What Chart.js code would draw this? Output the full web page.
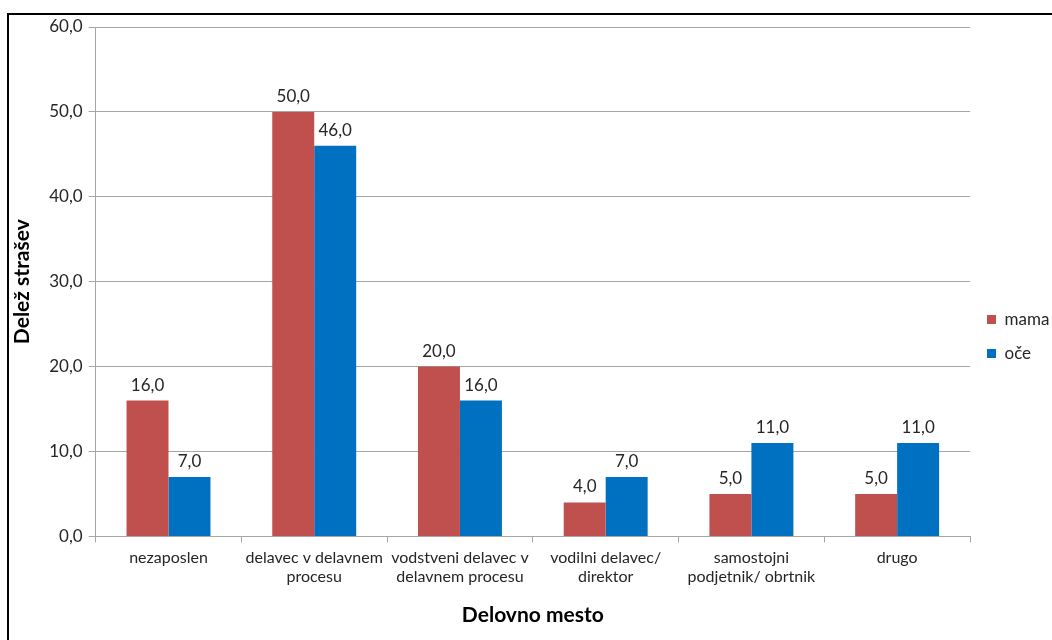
<!DOCTYPE html>
<html>
<head>
<meta charset="utf-8">
<script src="https://cdn.jsdelivr.net/npm/chart.js@4.4.1/dist/chart.umd.min.js"></script>
<style>
    html, body { margin: 0; padding: 0; background: #fff; }
    #wrap { position: relative; width: 1052px; height: 640px; overflow: hidden; }
    #frame {
        position: absolute; left: 7px; top: 13px; right: -5px; bottom: -5px;
        border-left: 2px solid #000; border-top: 2px solid #000;
    }
    #chart { position: absolute; left: 0; top: 0; }
</style>
</head>
<body>
<div id="wrap">
    <div id="frame"></div>
    <canvas id="chart" width="1052" height="640"></canvas>
</div>
<script>
const categories = [
    "nezaposlen",
    ["delavec v delavnem", "procesu"],
    ["vodstveni delavec v", "delavnem procesu"],
    ["vodilni delavec/", "direktor"],
    ["samostojni", "podjetnik/ obrtnik"],
    "drugo",
];
const mama = [16, 50, 20, 4, 5, 5];
const oce = [7, 46, 16, 7, 11, 11];
const yTicks = [0, 10, 20, 30, 40, 50, 60];

const fontFamily = "Lato, 'Open Sans', sans-serif";
const textColor = "#262626";
const gridColor = "#a6a6a6";

function fmt(v) {
    return Number(v).toFixed(1).replace(".", ",");
}

// numbers above each bar
const barValues = {
    id: "barValues",
    afterDatasetsDraw(chart) {
        const ctx = chart.ctx;
        ctx.save();
        ctx.font = "17px " + fontFamily;
        ctx.fillStyle = textColor;
        ctx.textAlign = "center";
        ctx.textBaseline = "bottom";
        chart.data.datasets.forEach((ds, i) => {
            chart.getDatasetMeta(i).data.forEach((bar, j) => {
                ctx.fillText(fmt(ds.data[j]), bar.x, bar.y - 7);
            });
        });
        ctx.restore();
    },
};

const ctx = document.getElementById("chart").getContext("2d");
new Chart(ctx, {
    type: "bar",
    data: {
        labels: categories,
        datasets: [
            { label: "mama", data: mama, backgroundColor: "#C0504D" },
            { label: "oče", data: oce, backgroundColor: "#0070C0" },
        ],
    },
    options: {
        responsive: false,
        animation: false,
        layout: { padding: { left: 6, top: 27, right: 0, bottom: 8 } },
        datasets: { bar: { categoryPercentage: 0.576, barPercentage: 1.0 } },
        plugins: {
            legend: {
                position: "right",
                maxWidth: 82,
                title: { display: true, text: "", font: { size: 10 }, padding: { top: 2, bottom: 0 } },
                labels: {
                    boxWidth: 9,
                    boxHeight: 9,
                    padding: 17,
                    color: textColor,
                    font: { family: fontFamily, size: 17 },
                },
            },
            tooltip: { enabled: false },
        },
        scales: {
            x: {
                grid: { drawOnChartArea: false, drawTicks: true, tickLength: 6, color: gridColor },
                border: { display: true, color: gridColor },
                ticks: { color: textColor, font: { family: fontFamily, size: 16 }, maxRotation: 0, autoSkip: false, padding: 6 },
                title: {
                    display: true,
                    text: "Delovno mesto",
                    color: "#000",
                    font: { family: fontFamily, size: 21, weight: "bold" },
                    padding: { top: 10 },
                },
            },
            y: {
                min: 0,
                max: 60,
                afterBuildTicks(axis) {
                    axis.ticks = yTicks.map((v) => ({ value: v }));
                },
                grid: { color: gridColor, tickLength: 7 },
                border: { display: true, color: gridColor },
                ticks: { color: textColor, font: { family: fontFamily, size: 17 }, padding: 6, callback: (v) => fmt(v) },
                title: {
                    display: true,
                    text: "Delež strašev",
                    color: "#000",
                    font: { family: fontFamily, size: 21, weight: "bold" },
                    padding: { bottom: 8 },
                },
            },
        },
    },
    plugins: [barValues],
});
</script>
</body>
</html>
